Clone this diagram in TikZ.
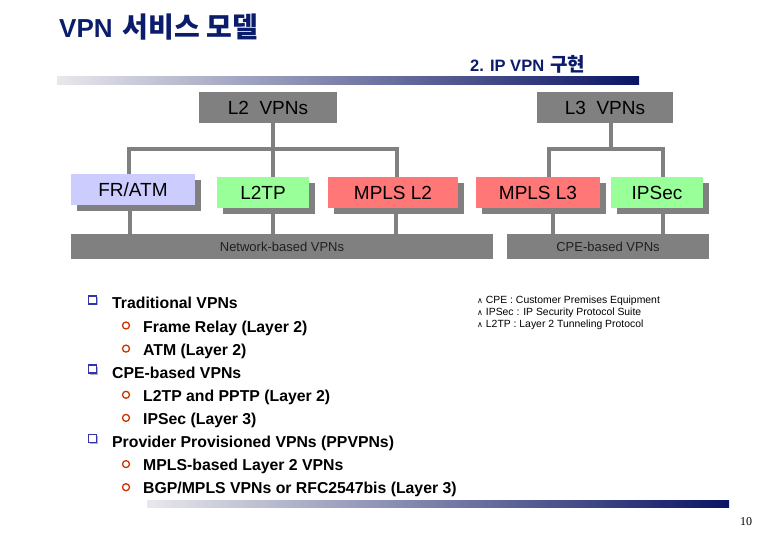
\documentclass[tikz,border=0pt]{standalone}
\usepackage{fontspec}
\setmainfont{Liberation Sans}
\newfontfamily\kr{Noto Sans CJK KR}
\newfontfamily\serifnum{Liberation Serif}
\newfontfamily\dv{DejaVu Sans}
\newcommand\fnmk{{\dv\fontsize{8}{9}\selectfont ∧}}
\usetikzlibrary{shadows,backgrounds}
\definecolor{boxgray}{HTML}{808080}
\definecolor{frblue}{HTML}{CCCCFF}
\definecolor{lgreen}{HTML}{99FF99}
\definecolor{salmon}{HTML}{FF7777}
\definecolor{titlenavy}{HTML}{0C1C6C}
\definecolor{barnavy}{HTML}{0A1464}
\definecolor{barlight}{HTML}{E8E8EC}
\definecolor{bulletblue}{HTML}{3333AA}
\definecolor{bulletred}{HTML}{CC3300}
\definecolor{bartext}{HTML}{202020}
\begin{document}
\begin{tikzpicture}[x=1pt,y=-1pt,
  hdr/.style={fill=boxgray, minimum width=#1, minimum height=31, inner sep=0,
    font=\fontsize{19}{22}\selectfont},
  leaf/.style={fill=#1, minimum height=31, inner sep=0,
    font=\fontsize{19}{22}\selectfont,
    drop shadow={shadow xshift=6pt, shadow yshift=-6pt, fill=boxgray, opacity=1}},
  basebar/.style={fill=boxgray, minimum width=#1, minimum height=25, inner sep=0,
    text=bartext, font=\fontsize{13}{15}\selectfont},
  conn/.style={draw=boxgray, line width=3.5pt},
  item/.style={anchor=base west, inner sep=0, font=\fontsize{15.8}{18}\selectfont\bfseries},
  sqbullet/.style={draw=bulletblue, line width=1.6pt, minimum size=8, inner sep=0,
    drop shadow={shadow xshift=1.5pt, shadow yshift=-1.5pt, fill=black!30, opacity=1}, fill=white},
  circbullet/.style={circle, draw=bulletred, line width=1.3pt, minimum size=7, inner sep=0},
  fn/.style={anchor=base west, inner sep=0, font=\fontsize{10.4}{12}\selectfont}
]
\useasboundingbox (0,0) rectangle (780,540);

% title
\node[anchor=base west, inner sep=0, text=titlenavy, font=\fontsize{26}{30}\selectfont\bfseries] (title) at (59,38) {VPN\hspace{10pt}{\kr\fontsize{28}{32}\selectfont 서비스 모델}};
\node[anchor=base west, inner sep=0, text=titlenavy, font=\fontsize{16.5}{18}\selectfont\bfseries] (sub) at (470,72) {2. IP VPN\hspace{6pt}{\kr\fontsize{19}{20}\selectfont 구현}};

% bars
\shade[left color=barlight, right color=barnavy] (57,77) rectangle (639,85);
\shade[left color=barlight, right color=barnavy] (147,500) rectangle (729,507);

% tree boxes
\node[hdr=138] (l2) at (268,107.5) {L2\ \ VPNs};
\node[hdr=136] (l3) at (605,107.5) {L3\ \ VPNs};
\node[leaf=frblue, minimum width=124] (fr) at (133,189.5) {FR/ATM};
\node[leaf=lgreen, minimum width=92] (l2tp) at (263,192.5) {L2TP};
\node[leaf=salmon, minimum width=130] (mpls2) at (393,192.5) {MPLS L2};
\node[leaf=salmon, minimum width=124] (mpls3) at (538,192.5) {MPLS L3};
\node[leaf=lgreen, minimum width=92] (ipsec) at (657,192.5) {IPSec};
\node[basebar=422] (nb) at (282,246.5) {Network-based VPNs};
\node[basebar=202] (cb) at (608,246.5) {CPE-based VPNs};

\coordinate (l2bus) at (273,149);
\coordinate (l3bus) at (611,149);

\begin{scope}[on background layer]
  \draw[conn] (l2.south -| l2bus) -- (l2bus);
  \draw[conn] ([xshift=-4pt]fr.north) |- (l2bus) -| ([xshift=4pt]mpls2.north);
  \draw[conn] ([xshift=10pt]l2tp.north) -- ([xshift=10pt]l2tp.north |- l2bus);
  \draw[conn] ([xshift=-3pt]fr.south) -- ([xshift=-3pt]fr.south |- nb.north);
  \draw[conn] ([xshift=10pt]l2tp.south) -- ([xshift=10pt]l2tp.south |- nb.north);
  \draw[conn] ([xshift=3pt]mpls2.south) -- ([xshift=3pt]mpls2.south |- nb.north);
  \draw[conn] (l3.south -| l3bus) -- (l3bus);
  \draw[conn] ([xshift=11pt]mpls3.north) |- (l3bus) -| ([xshift=6pt]ipsec.north);
  \draw[conn] ([xshift=15pt]mpls3.south) -- ([xshift=15pt]mpls3.south |- cb.north);
  \draw[conn] ([xshift=6pt]ipsec.south) -- ([xshift=6pt]ipsec.south |- cb.north);
\end{scope}

% list
\node[sqbullet] (s0) at (92.5,300) {};
\node[item] (t0) at (112,309) {Traditional VPNs};
\node[circbullet] (c1) at (126,325.5) {};
\node[item] (t1) at (143,332.1) {Frame Relay (Layer 2)};
\node[circbullet] (c2) at (126,348.6) {};
\node[item] (t2) at (143,355.2) {ATM (Layer 2)};
\node[sqbullet] (s3) at (92.5,369.3) {};
\node[item] (t3) at (112,378.3) {CPE-based VPNs};
\node[circbullet] (c4) at (126,394.8) {};
\node[item] (t4) at (143,401.4) {L2TP and PPTP (Layer 2)};
\node[circbullet] (c5) at (126,417.9) {};
\node[item] (t5) at (143,424.5) {IPSec (Layer 3)};
\node[sqbullet] (s6) at (92.5,438.6) {};
\node[item] (t6) at (112,447.6) {Provider Provisioned VPNs (PPVPNs)};
\node[circbullet] (c7) at (126,464.1) {};
\node[item] (t7) at (143,470.7) {MPLS-based Layer 2 VPNs};
\node[circbullet] (c8) at (126,487.2) {};
\node[item] (t8) at (143,493.8) {BGP/MPLS VPNs or RFC2547bis (Layer 3)};

% footnotes
\node[fn] (f1) at (477,304) {\fnmk\ CPE : Customer Premises Equipment};
\node[fn] (f2) at (477,316) {\fnmk\ IPSec : IP Security Protocol Suite};
\node[fn] (f3) at (477,328) {\fnmk\ L2TP : Layer 2 Tunneling Protocol};

% page number
\node[anchor=base west, inner sep=0, font=\serifnum\fontsize{12}{14}\selectfont] (pg) at (740,525) {10};
\end{tikzpicture}
\end{document}
